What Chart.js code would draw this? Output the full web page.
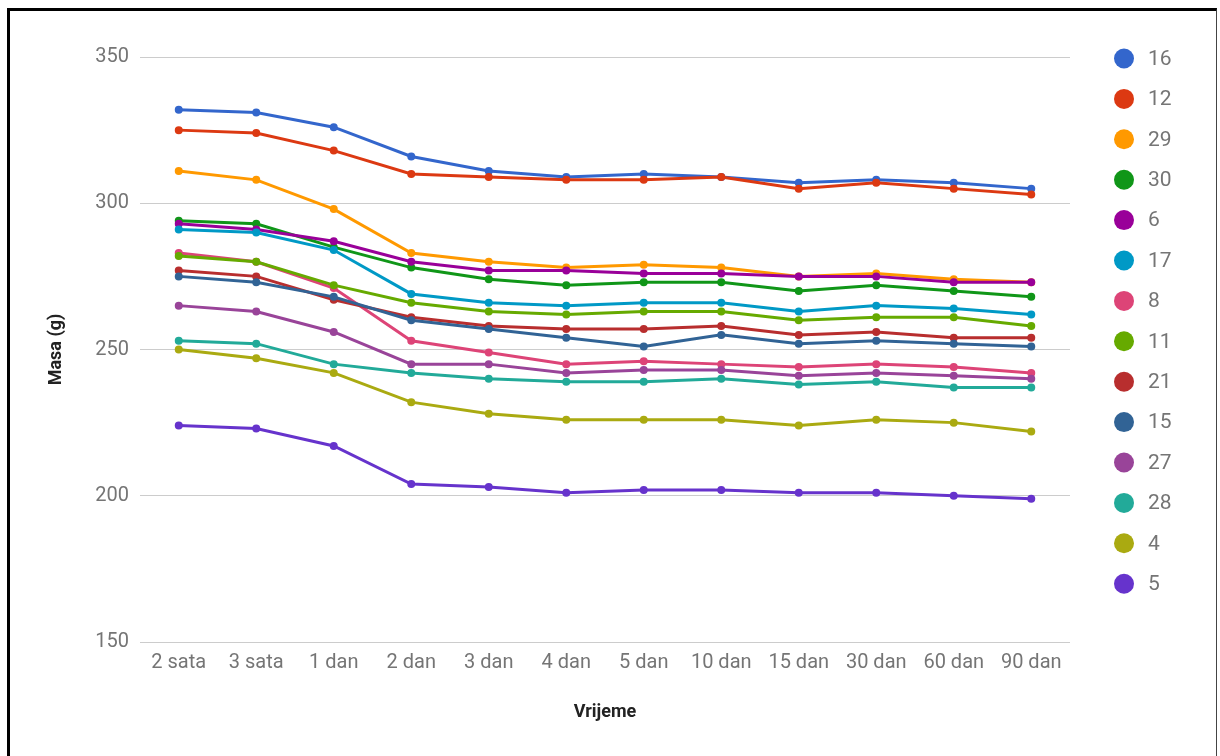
<!DOCTYPE html>
<html>
<head>
<meta charset="utf-8">
<script src="https://cdn.jsdelivr.net/npm/chart.js@4.4.1/dist/chart.umd.min.js"></script>
<style>
  html, body { margin: 0; padding: 0; background: #fff; }
  #wrap { position: relative; width: 1220px; height: 756px; overflow: hidden; }
  #okvir {
    position: absolute; left: 7px; top: 8px; width: 1206px; height: 760px;
    border-left: 3px solid #000; border-top: 3px solid #000; border-right: 1px solid #444;
    pointer-events: none;
  }
</style>
</head>
<body>
<div id="wrap">
  <canvas id="grafikon" width="1220" height="756"></canvas>
  <div id="okvir"></div>
</div>
<script>
var vrijeme = ['2 sata', '3 sata', '1 dan', '2 dan', '3 dan', '4 dan', '5 dan', '10 dan', '15 dan', '30 dan', '60 dan', '90 dan'];

var s16 = [332, 331, 326, 316, 311, 309, 310, 309, 307, 308, 307, 305];
var s12 = [325, 324, 318, 310, 309, 308, 308, 309, 305, 307, 305, 303];
var s29 = [311, 308, 298, 283, 280, 278, 279, 278, 275, 276, 274, 273];
var s30 = [294, 293, 285, 278, 274, 272, 273, 273, 270, 272, 270, 268];
var s6  = [293, 291, 287, 280, 277, 277, 276, 276, 275, 275, 273, 273];
var s17 = [291, 290, 284, 269, 266, 265, 266, 266, 263, 265, 264, 262];
var s8  = [283, 280, 271, 253, 249, 245, 246, 245, 244, 245, 244, 242];
var s11 = [282, 280, 272, 266, 263, 262, 263, 263, 260, 261, 261, 258];
var s21 = [277, 275, 267, 261, 258, 257, 257, 258, 255, 256, 254, 254];
var s15 = [275, 273, 268, 260, 257, 254, 251, 255, 252, 253, 252, 251];
var s27 = [265, 263, 256, 245, 245, 242, 243, 243, 241, 242, 241, 240];
var s28 = [253, 252, 245, 242, 240, 239, 239, 240, 238, 239, 237, 237];
var s4  = [250, 247, 242, 232, 228, 226, 226, 226, 224, 226, 225, 222];
var s5  = [224, 223, 217, 204, 203, 201, 202, 202, 201, 201, 200, 199];

var imena = ['16', '12', '29', '30', '6', '17', '8', '11', '21', '15', '27', '28', '4', '5'];
var serije = [s16, s12, s29, s30, s6, s17, s8, s11, s21, s15, s27, s28, s4, s5];
var boje = ['#3366cc', '#dc3912', '#ff9900', '#109618', '#990099', '#0099c6', '#dd4477',
            '#66aa00', '#b82e2e', '#316395', '#994499', '#22aa99', '#aaaa11', '#6633cc'];

var yTicks = [150, 200, 250, 300, 350];

var font = 'Roboto, "Noto Sans", Arial, sans-serif';
Chart.defaults.font.family = font;

// legenda desno, crtana rucno
var legendaPlugin = {
  id: 'legenda',
  afterDraw: function (chart) {
    var ctx = chart.ctx;
    ctx.save();
    ctx.font = '21px ' + font;
    ctx.textBaseline = 'middle';
    ctx.textAlign = 'left';
    chart.data.datasets.forEach(function (ds, i) {
      var y = 58.5 + i * 40.4;
      ctx.beginPath();
      ctx.fillStyle = ds.borderColor;
      ctx.arc(1124, y, 10, 0, Math.PI * 2);
      ctx.fill();
      ctx.fillStyle = '#757575';
      ctx.fillText(ds.label, 1148, y + 1);
    });
    ctx.restore();
  }
};

var datasets = serije.map(function (vals, i) {
  return {
    label: imena[i],
    data: vals,
    borderColor: boje[i],
    backgroundColor: boje[i],
    borderWidth: 3,
    pointRadius: 2.5,
    pointHoverRadius: 3,
    tension: 0,
    order: serije.length - i
  };
});

new Chart(document.getElementById('grafikon'), {
  type: 'line',
  data: { labels: vrijeme, datasets: datasets },
  options: {
    responsive: false,
    animation: false,
    layout: { padding: { left: 0, top: 57, right: 150, bottom: 0 } },
    plugins: {
      legend: { display: false },
      tooltip: { enabled: false }
    },
    scales: {
      x: {
        offset: true,
        grid: { display: false, drawTicks: false },
        border: { display: false },
        ticks: { color: '#757575', font: { size: 20 }, padding: 9, maxRotation: 0 },
        title: { display: true, text: 'Vrijeme', color: '#222', font: { size: 18, weight: 'bold' }, padding: { bottom: 33 } },
        afterFit: function (s) { s.height = 114; }
      },
      y: {
        min: 150,
        max: 350,
        afterBuildTicks: function (s) { s.ticks = yTicks.map(function (v) { return { value: v }; }); },
        grid: { color: '#cccccc', drawTicks: false },
        border: { display: false },
        ticks: { color: '#757575', font: { size: 20 }, padding: 11 },
        title: { display: true, text: 'Masa (g)', color: '#222', font: { size: 18, weight: 'bold' }, padding: { top: 46 } },
        afterFit: function (s) { s.width = 140; }
      }
    }
  },
  plugins: [legendaPlugin]
});
</script>
</body>
</html>
